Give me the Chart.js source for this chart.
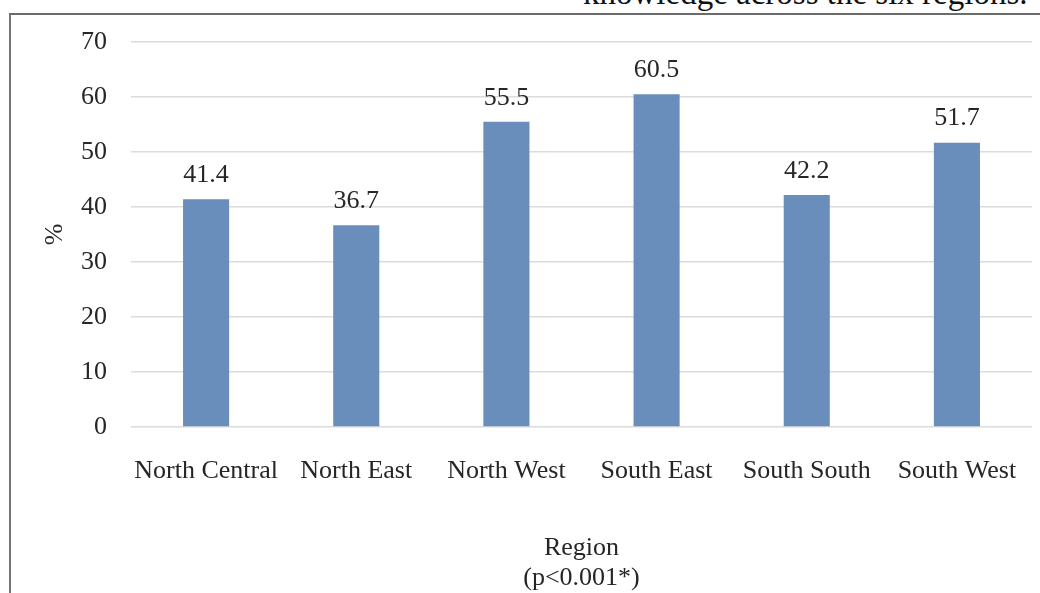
<!DOCTYPE html>
<html>
<head>
<meta charset="utf-8">
<script src="https://cdn.jsdelivr.net/npm/chart.js@4/dist/chart.umd.min.js"></script>
<style>
  html, body { margin: 0; padding: 0; background: #ffffff; }
  #wrap { position: relative; width: 1040px; height: 593px; overflow: hidden; }
  #frame { position: absolute; left: 9px; top: 13px; width: 1040px; height: 600px;
           border-top: 2px solid #6b6b6b; border-left: 2px solid #7a7370; box-sizing: border-box; }
  #cap { position: absolute; left: 583px; top: -25px; font-family: "Liberation Serif", serif;
         font-size: 33px; color: #111; white-space: nowrap; line-height: 36px; }
  canvas { position: absolute; left: 0; top: 0; }
</style>
</head>
<body>
<div id="wrap">
  <div id="cap">knowledge across the six regions.</div>
  <div id="frame"></div>
  <canvas id="c" width="1040" height="593"></canvas>
</div>
<script>
const categories = ["North Central", "North East", "North West", "South East", "South South", "South West"];
const values = [41.4, 36.7, 55.5, 60.5, 42.2, 51.7];
const yTicks = [0, 10, 20, 30, 40, 50, 60, 70];
const xTitle = ["Region", "(p<0.001*)"];
const yTitle = "%";

const serif = "'Liberation Serif', 'Times New Roman', serif";
const textColor = "#262626";

const valueLabels = {
  id: "valueLabels",
  afterDatasetsDraw(chart) {
    const ctx = chart.ctx;
    const meta = chart.getDatasetMeta(0);
    ctx.save();
    ctx.font = "26px " + serif;
    ctx.fillStyle = textColor;
    ctx.textAlign = "center";
    ctx.textBaseline = "middle";
    meta.data.forEach((bar, i) => {
      ctx.fillText(values[i].toFixed(1), bar.x, bar.y - 24);
    });
    ctx.restore();
  }
};

new Chart(document.getElementById("c"), {
  type: "bar",
  data: {
    labels: categories,
    datasets: [{
      data: values,
      backgroundColor: "#6a8ebb",
      borderWidth: 0,
      barPercentage: 0.307,
      categoryPercentage: 1.0
    }]
  },
  options: {
    responsive: false,
    animation: false,
    devicePixelRatio: 1,
    layout: { padding: { top: 42, right: 8, left: 0, bottom: 0 } },
    plugins: { legend: { display: false }, tooltip: { enabled: false } },
    scales: {
      x: {
        grid: { display: false },
        border: { display: false },
        ticks: { color: textColor, font: { family: serif, size: 26 }, padding: 21, maxRotation: 0 },
        title: {
          display: true,
          text: xTitle,
          color: textColor,
          font: { family: serif, size: 26, lineHeight: 30 / 26 },
          padding: { top: 0, bottom: 0 }
        },
        afterFit(scale) { scale.height = 166; }
      },
      y: {
        min: 0,
        max: 70,
        afterBuildTicks(scale) { scale.ticks = yTicks.map(v => ({ value: v })); },
        grid: { color: "#dcdcdc", lineWidth: 1.5, drawTicks: false },
        border: { display: false },
        ticks: { color: textColor, font: { family: serif, size: 26 }, padding: 24 },
        title: {
          display: true,
          text: yTitle,
          color: textColor,
          font: { family: serif, size: 26, lineHeight: 30 / 26 },
          padding: { top: 40, bottom: 0 }
        },
        afterFit(scale) { scale.width = 131; }
      }
    }
  },
  plugins: [valueLabels]
});
</script>
</body>
</html>
